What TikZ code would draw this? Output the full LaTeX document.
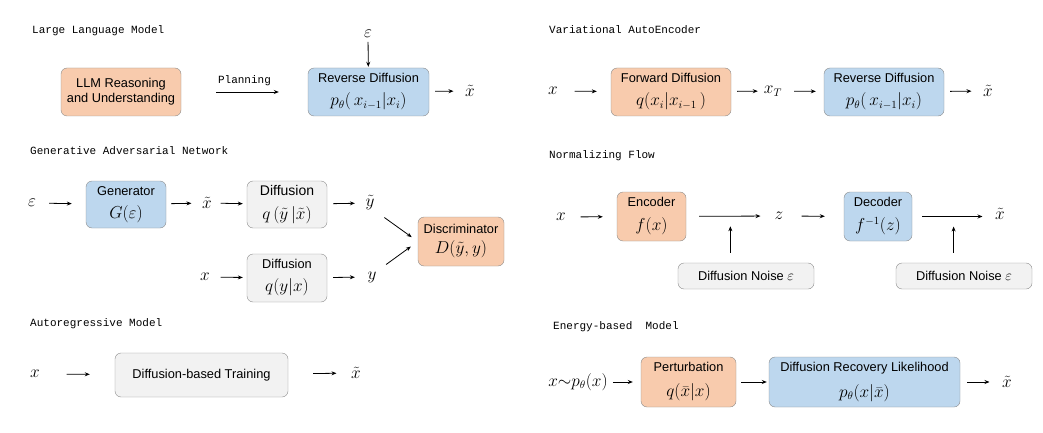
\documentclass[tikz,border=0pt]{standalone}
\usepackage{fontspec, amsmath, amssymb}
\setmainfont{Liberation Sans}
\newfontfamily\monofont{Liberation Mono}
\definecolor{po}{HTML}{F8CBAD}
\definecolor{pb}{HTML}{BDD7EE}
\definecolor{pg}{HTML}{F2F2F2}
\definecolor{pe}{HTML}{8C8C8C}
\usetikzlibrary{arrows.meta}
\usetikzlibrary{calc}
\newcommand{\mf}[1]{{\fontsize{16}{18}\selectfont$#1$}}

\begin{document}
\begin{tikzpicture}[x=1pt,y=-1pt,
		box/.style={draw=pe, rounded corners=6pt, inner sep=0pt, align=center, font=\fontsize{12.8}{15}\selectfont},
		lbl/.style={inner sep=0pt, font=\fontsize{16}{18}\selectfont},
		ttl/.style={anchor=base west, inner sep=0pt, font=\monofont\fontsize{11}{13}\selectfont},
		arr/.style={-{Stealth[length=5pt,width=4pt]}, line width=0.8pt}]
			\useasboundingbox (0,0) rectangle (1043,433);

			% Large Language Model
			\node[ttl] (tllm) at (32,34) {Large Language Model};
			\node[box, fill=po, minimum width=120pt, minimum height=48pt] (llm) at (121,92) {LLM Reasoning\\and Understanding};
			\node[box, fill=pb, minimum width=121pt, minimum height=48pt] (rda) at (368.5,92) {Reverse Diffusion\\[8pt]\mf{p_\theta(\,x_{i-1}|x_i)}};
			\node[lbl] (epa) at (368,34) {$\varepsilon$};
			\node[lbl] (xta) at (470,91) {$\tilde{x}$};
			\draw[arr, shorten <=35pt, shorten >=29pt] (llm) -- node[above=6pt, inner sep=0pt, font=\monofont\fontsize{11}{13}\selectfont] (plan) {Planning} (rda);
			\draw[arr, shorten <=4pt, shorten >=1pt] (epa) -- (rda);
			\draw[arr, shorten <=6pt, shorten >=11.5pt] (rda) -- (xta);

			% Generative Adversarial Network
			\node[ttl] (tgan) at (30,154) {Generative Adversarial Network};
			\node[lbl] (epb) at (32,203) {$\varepsilon$};
			\node[box, fill=pb, minimum width=80pt, minimum height=47pt] (gen) at (126,204.5) {Generator\\[8pt]\mf{G(\varepsilon)}};
			\node[lbl] (xtb) at (207,203) {$\tilde{x}$};
			\node[box, fill=pg, minimum width=80pt, minimum height=47pt, font=\fontsize{14}{16}\selectfont] (difa) at (287,204.5) {Diffusion\\[8pt]\mf{q\,(\tilde{y}\,|\tilde{x})}};
			\node[lbl] (yta) at (370,203) {$\tilde{y}$};
			\node[lbl] (xb) at (205,277) {$x$};
			\node[box, fill=pg, minimum width=80pt, minimum height=48pt] (difb) at (287,278) {Diffusion\\[8pt]\mf{q(y|x)}};
			\node[lbl] (yb) at (372,277) {$y$};
			\node[box, fill=po, minimum width=86pt, minimum height=49pt] (dis) at (461,241.5) {Discriminator\\[5pt]\mf{D(\tilde{y},y)}};
			\draw[arr, shorten <=13pt, shorten >=14pt] (epb) -- (gen);
			\draw[arr, shorten <=5pt, shorten >=10.5pt] (gen) -- (xtb);
			\draw[arr, shorten <=8.5pt, shorten >=4pt] (xtb) -- (difa);
			\draw[arr, shorten <=6pt, shorten >=10.5pt] (difa) -- (yta);
			\draw[arr, shorten <=10.5pt, shorten >=4pt] (xb) -- (difb);
			\draw[arr, shorten <=6pt, shorten >=12.5pt] (difb) -- (yb);
			\draw[arr, shorten <=12pt, shorten >=7.5pt] (yta.south east) -- (dis.west);
			\draw[arr, shorten <=11.7pt, shorten >=8.6pt] (yb.north east) -- (dis.west);

			% Autoregressive Model
			\node[ttl] (tar) at (30,326) {Autoregressive Model};
			\node[lbl] (xc) at (35,374) {$x$};
			\node[box, fill=pg, minimum width=173pt, minimum height=44pt] (dbt) at (201.5,375) {Diffusion-based Training};
			\node[lbl] (xtc) at (356,373) {$\tilde{x}$};
			\draw[arr, shorten <=26.5pt, shorten >=25pt] (xc) -- (dbt);
			\draw[arr, shorten <=25pt, shorten >=14.5pt] (dbt) -- (xtc);

			% Variational AutoEncoder
			\node[ttl] (tvae) at (549,33.5) {Variational AutoEncoder};
			\node[lbl] (xd) at (553,91) {$x$};
			\node[box, fill=po, minimum width=120pt, minimum height=48pt] (fwd) at (671,92) {Forward Diffusion\\[8pt]\mf{q(x_i|x_{i-1}\,)}};
			\node[lbl] (xT) at (773,91) {$x_T$};
			\node[box, fill=pb, minimum width=120pt, minimum height=48pt] (rdb) at (884,92) {Reverse Diffusion\\[8pt]\mf{p_\theta(\,x_{i-1}|x_i)}};
			\node[lbl] (xtd) at (988,91) {$\tilde{x}$};
			\draw[arr, shorten <=16.5pt, shorten >=14pt] (xd) -- (fwd);
			\draw[arr, shorten <=6pt, shorten >=6pt] (fwd) -- (xT);
			\draw[arr, shorten <=12pt, shorten >=8pt] (xT) -- (rdb);
			\draw[arr, shorten <=6pt, shorten >=11.5pt] (rdb) -- (xtd);

			% Normalizing Flow
			\node[ttl] (tnf) at (549,158) {Normalizing Flow};
			\node[lbl] (xe) at (561,217) {$x$};
			\node[box, fill=po, minimum width=69pt, minimum height=49pt] (enc) at (651.5,216.5) {Encoder\\[9pt]\mf{f(x)}};
			\node[lbl] (z) at (779,216) {$z$};
			\node[box, fill=pb, minimum width=68pt, minimum height=49pt] (dec) at (878,216.5) {Decoder\\[9pt]\mf{f^{-1}(z)}};
			\node[lbl] (xte) at (1000,214) {$\tilde{x}$};
			\node[box, fill=pg, minimum width=136pt, minimum height=26pt] (noa) at (746,276) {Diffusion Noise {\fontsize{14}{16}\selectfont$\varepsilon$}};
			\node[box, fill=pg, minimum width=136pt, minimum height=26pt] (nob) at (964,276) {Diffusion Noise {\fontsize{14}{16}\selectfont$\varepsilon$}};
			\coordinate (ma) at ($(enc.east)!0.5!(z.west)$);
			\coordinate (mb) at ($(dec.east)!0.5!(xte.west)$);
			\draw[arr, shorten <=14.5pt, shorten >=14pt] (xe) -- (enc);
			\draw[arr, shorten <=13pt, shorten >=14pt] (enc) -- (z);
			\draw[arr, shorten <=18pt, shorten >=19pt] (z) -- (dec);
			\draw[arr, shorten <=10pt, shorten >=12.5pt] (dec.east) -- (dec.east -| xte.west);
			\draw[arr, shorten <=10pt, shorten >=10pt] (ma |- noa.north) -- (ma);
			\draw[arr, shorten <=10pt, shorten >=10pt] (mb |- nob.north) -- (mb |- dec.east);

			% Energy-based Model
			\node[ttl] (tebm) at (553,329) {Energy-based\ \ Model};
			\node[lbl] (xf) at (578,382) {$x{\sim}p_\theta(x)$};
			\node[box, fill=po, minimum width=95pt, minimum height=50pt] (pert) at (688.5,382) {Perturbation\\[10pt]\mf{q(\bar{x}|x)}};
			\node[box, fill=pb, minimum width=191pt, minimum height=50pt] (drl) at (864.5,382) {Diffusion Recovery Likelihood\\[9pt]\mf{p_\theta(x|\bar{x})}};
			\node[lbl] (xtf) at (1007,382) {$\tilde{x}$};
			\draw[arr, shorten <=5pt, shorten >=8pt] (xf) -- (pert);
			\draw[arr, shorten <=5pt, shorten >=2pt] (pert) -- (drl);
			\draw[arr, shorten <=7pt, shorten >=12.5pt] (drl) -- (xtf);
		\end{tikzpicture}
\end{document}
